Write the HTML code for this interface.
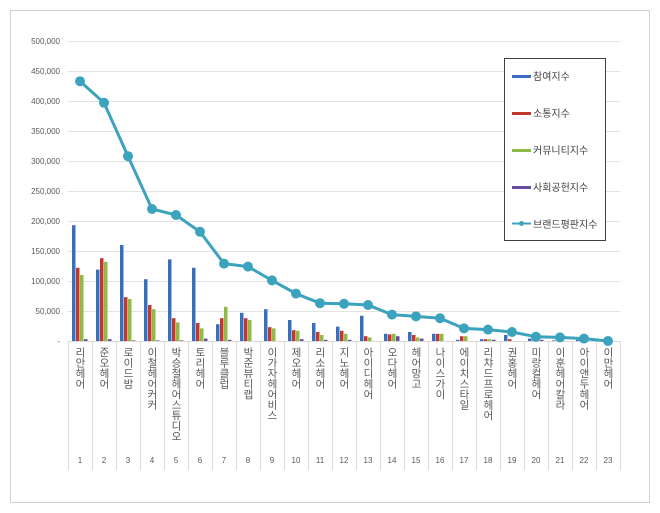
<!DOCTYPE html>
<html><head><meta charset="utf-8"><style>
body{margin:0;background:#fff;width:660px;height:513px;overflow:hidden;position:relative;font-family:"Liberation Sans","Noto Sans CJK KR",sans-serif}
.lab{position:absolute;top:347px;width:14px;writing-mode:vertical-rl;text-orientation:upright;font-size:10.5px;color:#595959;line-height:14px;letter-spacing:0px;font-family:"Noto Sans CJK KR",sans-serif}
</style></head><body>
<svg width="660" height="513" style="position:absolute;left:0;top:0">
<rect x="10.5" y="10.5" width="639" height="492" fill="none" stroke="#d0d0d0"/>
<g stroke="#e3e3e3" stroke-width="1">
<line x1="68" x2="620" y1="41.5" y2="41.5"/><line x1="68" x2="620" y1="71.5" y2="71.5"/><line x1="68" x2="620" y1="101.5" y2="101.5"/><line x1="68" x2="620" y1="131.5" y2="131.5"/><line x1="68" x2="620" y1="161.5" y2="161.5"/><line x1="68" x2="620" y1="191.5" y2="191.5"/><line x1="68" x2="620" y1="221.5" y2="221.5"/><line x1="68" x2="620" y1="251.5" y2="251.5"/><line x1="68" x2="620" y1="281.5" y2="281.5"/><line x1="68" x2="620" y1="311.5" y2="311.5"/>
</g>
<g stroke="#d9d9d9">
<line x1="68.5" x2="68.5" y1="341" y2="470"/><line x1="92.5" x2="92.5" y1="341" y2="470"/><line x1="116.5" x2="116.5" y1="341" y2="470"/><line x1="140.5" x2="140.5" y1="341" y2="470"/><line x1="164.5" x2="164.5" y1="341" y2="470"/><line x1="188.5" x2="188.5" y1="341" y2="470"/><line x1="212.5" x2="212.5" y1="341" y2="470"/><line x1="236.5" x2="236.5" y1="341" y2="470"/><line x1="260.5" x2="260.5" y1="341" y2="470"/><line x1="284.5" x2="284.5" y1="341" y2="470"/><line x1="308.5" x2="308.5" y1="341" y2="470"/><line x1="332.5" x2="332.5" y1="341" y2="470"/><line x1="356.5" x2="356.5" y1="341" y2="470"/><line x1="380.5" x2="380.5" y1="341" y2="470"/><line x1="404.5" x2="404.5" y1="341" y2="470"/><line x1="428.5" x2="428.5" y1="341" y2="470"/><line x1="452.5" x2="452.5" y1="341" y2="470"/><line x1="476.5" x2="476.5" y1="341" y2="470"/><line x1="500.5" x2="500.5" y1="341" y2="470"/><line x1="524.5" x2="524.5" y1="341" y2="470"/><line x1="548.5" x2="548.5" y1="341" y2="470"/><line x1="572.5" x2="572.5" y1="341" y2="470"/><line x1="596.5" x2="596.5" y1="341" y2="470"/><line x1="620.5" x2="620.5" y1="341" y2="470"/>
<line x1="68" x2="620" y1="341.5" y2="341.5"/>
</g>
<g font-size="8" fill="#595959" text-anchor="end" font-family="Liberation Sans,sans-serif">
<text x="60" y="44">500,000</text><text x="60" y="74">450,000</text><text x="60" y="104">400,000</text><text x="60" y="134">350,000</text><text x="60" y="164">300,000</text><text x="60" y="194">250,000</text><text x="60" y="224">200,000</text><text x="60" y="254">150,000</text><text x="60" y="284">100,000</text><text x="60" y="314">50,000</text><text x="60" y="344">-</text>
</g>
<g fill="#3a6ebf">
<rect x="72" y="225.2" width="3.5" height="115.8"/><rect x="96" y="269.6" width="3.5" height="71.4"/><rect x="120" y="245" width="3.5" height="96"/><rect x="144" y="279.2" width="3.5" height="61.8"/><rect x="168" y="259.4" width="3.5" height="81.6"/><rect x="192" y="267.8" width="3.5" height="73.2"/><rect x="216" y="324.2" width="3.5" height="16.8"/><rect x="240" y="312.8" width="3.5" height="28.2"/><rect x="264" y="309.2" width="3.5" height="31.8"/><rect x="288" y="320" width="3.5" height="21"/><rect x="312" y="323" width="3.5" height="18"/><rect x="336" y="326.6" width="3.5" height="14.4"/><rect x="360" y="315.8" width="3.5" height="25.2"/><rect x="384" y="333.8" width="3.5" height="7.2"/><rect x="408" y="332" width="3.5" height="9"/><rect x="432" y="333.8" width="3.5" height="7.2"/><rect x="456" y="339.8" width="3.5" height="1.2"/><rect x="480" y="339.2" width="3.5" height="1.8"/><rect x="504" y="335" width="3.5" height="6"/><rect x="528" y="338.6" width="3.5" height="2.4"/><rect x="552" y="340.4" width="3.5" height="0.6"/><rect x="576" y="339.8" width="3.5" height="1.2"/>
</g>
<g fill="#c0392b">
<rect x="76" y="267.8" width="3.5" height="73.2"/><rect x="100" y="258.2" width="3.5" height="82.8"/><rect x="124" y="297.2" width="3.5" height="43.8"/><rect x="148" y="305" width="3.5" height="36"/><rect x="172" y="318.2" width="3.5" height="22.8"/><rect x="196" y="323" width="3.5" height="18"/><rect x="220" y="318.2" width="3.5" height="22.8"/><rect x="244" y="318.2" width="3.5" height="22.8"/><rect x="268" y="327.2" width="3.5" height="13.8"/><rect x="292" y="330.2" width="3.5" height="10.8"/><rect x="316" y="332" width="3.5" height="9"/><rect x="340" y="330.8" width="3.5" height="10.2"/><rect x="364" y="336.2" width="3.5" height="4.8"/><rect x="388" y="334.4" width="3.5" height="6.6"/><rect x="412" y="335" width="3.5" height="6"/><rect x="436" y="333.8" width="3.5" height="7.2"/><rect x="460" y="336.2" width="3.5" height="4.8"/><rect x="484" y="339.2" width="3.5" height="1.8"/><rect x="508" y="339.2" width="3.5" height="1.8"/><rect x="532" y="340.4" width="3.5" height="0.6"/>
</g>
<g fill="#8dbb45">
<rect x="80" y="275" width="3.5" height="66"/><rect x="104" y="261.8" width="3.5" height="79.2"/><rect x="128" y="299" width="3.5" height="42"/><rect x="152" y="309.2" width="3.5" height="31.8"/><rect x="176" y="322.4" width="3.5" height="18.6"/><rect x="200" y="328.4" width="3.5" height="12.6"/><rect x="224" y="306.8" width="3.5" height="34.2"/><rect x="248" y="320" width="3.5" height="21"/><rect x="272" y="328.4" width="3.5" height="12.6"/><rect x="296" y="330.8" width="3.5" height="10.2"/><rect x="320" y="335" width="3.5" height="6"/><rect x="344" y="333.8" width="3.5" height="7.2"/><rect x="368" y="337.4" width="3.5" height="3.6"/><rect x="392" y="333.8" width="3.5" height="7.2"/><rect x="416" y="337.4" width="3.5" height="3.6"/><rect x="440" y="333.8" width="3.5" height="7.2"/><rect x="464" y="336.2" width="3.5" height="4.8"/><rect x="488" y="339.2" width="3.5" height="1.8"/>
</g>
<g fill="#6a4c9c">
<rect x="84" y="339.2" width="3.5" height="1.8"/><rect x="108" y="339.2" width="3.5" height="1.8"/><rect x="132" y="340.4" width="3.5" height="0.6"/><rect x="156" y="340.4" width="3.5" height="0.6"/><rect x="180" y="340.4" width="3.5" height="0.6"/><rect x="204" y="338.6" width="3.5" height="2.4"/><rect x="228" y="339.8" width="3.5" height="1.2"/><rect x="300" y="339.2" width="3.5" height="1.8"/><rect x="324" y="339.8" width="3.5" height="1.2"/><rect x="348" y="339.8" width="3.5" height="1.2"/><rect x="396" y="336.2" width="3.5" height="4.8"/><rect x="420" y="338.6" width="3.5" height="2.4"/><rect x="492" y="339.8" width="3.5" height="1.2"/><rect x="540" y="339.8" width="3.5" height="1.2"/>
</g>
<polyline fill="none" stroke="#3ba3bd" stroke-width="3" points="80,81.2 104,102.8 128,156.2 152,209 176,215 200,231.8 224,263.6 248,266.6 272,280.4 296,293.6 320,303.2 344,303.8 368,305 392,314.6 416,316.4 440,318.2 464,328.4 488,329.6 512,332 536,336.8 560,337.4 584,338.6 608,341"/>
<g fill="#3ba3bd">
<circle cx="80" cy="81.2" r="5"/><circle cx="104" cy="102.8" r="5"/><circle cx="128" cy="156.2" r="5"/><circle cx="152" cy="209" r="5"/><circle cx="176" cy="215" r="5"/><circle cx="200" cy="231.8" r="5"/><circle cx="224" cy="263.6" r="5"/><circle cx="248" cy="266.6" r="5"/><circle cx="272" cy="280.4" r="5"/><circle cx="296" cy="293.6" r="5"/><circle cx="320" cy="303.2" r="5"/><circle cx="344" cy="303.8" r="5"/><circle cx="368" cy="305" r="5"/><circle cx="392" cy="314.6" r="5"/><circle cx="416" cy="316.4" r="5"/><circle cx="440" cy="318.2" r="5"/><circle cx="464" cy="328.4" r="5"/><circle cx="488" cy="329.6" r="5"/><circle cx="512" cy="332" r="5"/><circle cx="536" cy="336.8" r="5"/><circle cx="560" cy="337.4" r="5"/><circle cx="584" cy="338.6" r="5"/><circle cx="608" cy="341" r="5"/>
</g>
<g font-size="8" fill="#595959" text-anchor="middle" font-family="Liberation Sans,sans-serif">
<text x="80" y="463">1</text><text x="104" y="463">2</text><text x="128" y="463">3</text><text x="152" y="463">4</text><text x="176" y="463">5</text><text x="200" y="463">6</text><text x="224" y="463">7</text><text x="248" y="463">8</text><text x="272" y="463">9</text><text x="296" y="463">10</text><text x="320" y="463">11</text><text x="344" y="463">12</text><text x="368" y="463">13</text><text x="392" y="463">14</text><text x="416" y="463">15</text><text x="440" y="463">16</text><text x="464" y="463">17</text><text x="488" y="463">18</text><text x="512" y="463">19</text><text x="536" y="463">20</text><text x="560" y="463">21</text><text x="584" y="463">22</text><text x="608" y="463">23</text>
</g>
<rect x="504.5" y="58.5" width="101" height="182" fill="#fff" stroke="#404040"/>
<rect x="512" y="75" width="19" height="3" fill="#3a6ebf"/>
<rect x="512" y="112" width="19" height="3" fill="#c0392b"/>
<rect x="512" y="149" width="19" height="3" fill="#8dbb45"/>
<rect x="512" y="186" width="19" height="3" fill="#6a4c9c"/>
<line x1="512" x2="531" y1="223.5" y2="223.5" stroke="#3ba3bd" stroke-width="2"/><circle cx="521.5" cy="223.5" r="2.5" fill="#3ba3bd"/>
<g font-size="10" fill="#404040" font-family="Noto Sans CJK KR,sans-serif">
<text x="533" y="80">참여지수</text><text x="533" y="117">소통지수</text><text x="533" y="154">커뮤니티지수</text><text x="533" y="191">사회공헌지수</text><text x="533" y="228">브랜드평판지수</text>
</g>
</svg>
<div class="lab" style="left:73px">리안헤어</div>
<div class="lab" style="left:97px">준오헤어</div>
<div class="lab" style="left:121px">로이드밤</div>
<div class="lab" style="left:145px">이철헤어커커</div>
<div class="lab" style="left:169px">박승철헤어스튜디오</div>
<div class="lab" style="left:193px">토리헤어</div>
<div class="lab" style="left:217px">블루클럽</div>
<div class="lab" style="left:241px">박준뷰티랩</div>
<div class="lab" style="left:265px">이가자헤어비스</div>
<div class="lab" style="left:289px">제오헤어</div>
<div class="lab" style="left:313px">리소헤어</div>
<div class="lab" style="left:337px">지노헤어</div>
<div class="lab" style="left:361px">아이디헤어</div>
<div class="lab" style="left:385px">오다헤어</div>
<div class="lab" style="left:409px">헤어망고</div>
<div class="lab" style="left:433px">나이스가이</div>
<div class="lab" style="left:457px">에이치스타일</div>
<div class="lab" style="left:481px">리챠드프로헤어</div>
<div class="lab" style="left:505px">권홍헤어</div>
<div class="lab" style="left:529px">미랑컬헤어</div>
<div class="lab" style="left:553px">이훈헤어칼라</div>
<div class="lab" style="left:577px">아이앤두헤어</div>
<div class="lab" style="left:601px">이만헤어</div>
</body></html>
